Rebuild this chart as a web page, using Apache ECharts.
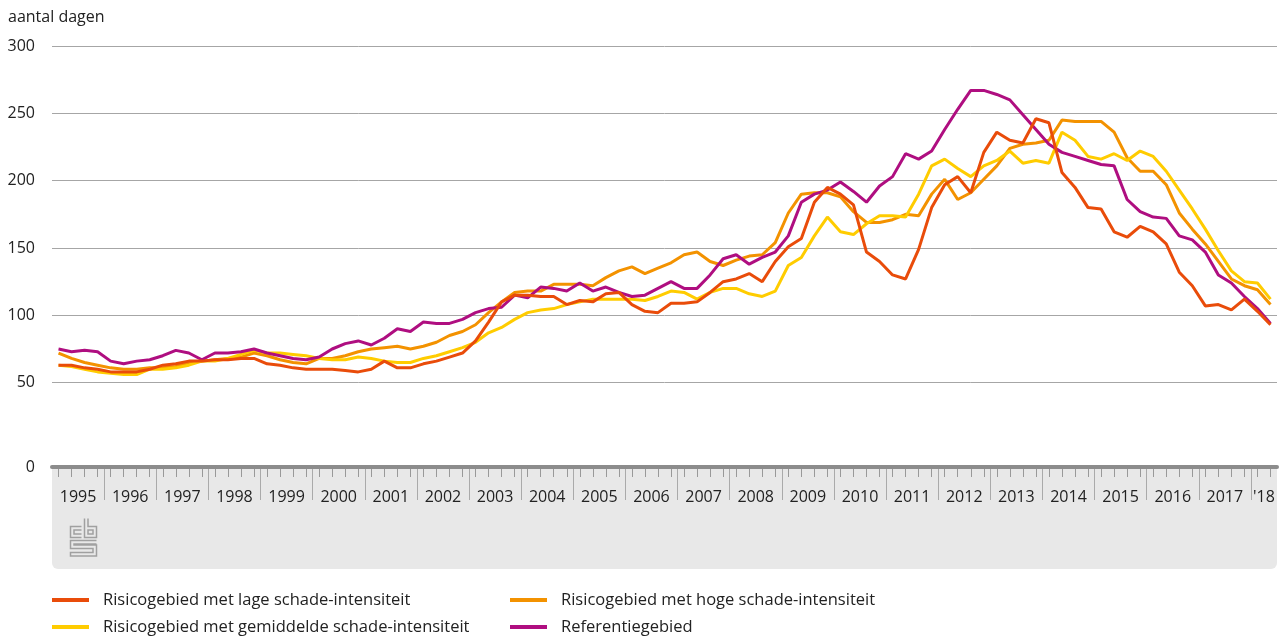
<!DOCTYPE html>
<html>
<head>
<meta charset="utf-8">
<script src="https://cdn.jsdelivr.net/npm/echarts@6/dist/echarts.min.js"></script>
<style>
  html, body { margin: 0; padding: 0; background: #fff; }
  #chart { width: 1285px; height: 637px; }
</style>
</head>
<body>
<div id="chart"></div>
<script>
// kwartalen 1995 K1 t/m 2018 K2
const jaren = []
for (let j = 1995; j <= 2018; j++) jaren.push(j)
const kwartalen = []
jaren.forEach(j => {
  for (let k = 1; k <= 4; k++) {
    if (j === 2018 && k > 2) continue
    kwartalen.push(j + 'K' + k)
  }
})

const lage = [
  63, 63, 61, 60, 58, 58, 58, 60, 63, 64, 66, 66, 67, 67, 68, 68,
  64, 63, 61, 60, 60, 60, 59, 58, 60, 66, 61, 61, 64, 66, 69, 72,
  81, 95, 110, 115, 115, 114, 114, 108, 111, 110, 116, 117, 108, 103, 102, 109,
  109, 110, 117, 125, 127, 131, 125, 140, 151, 157, 184, 195, 190, 182, 147, 140,
  130, 127, 149, 180, 197, 203, 191, 221, 236, 230, 228, 246, 243, 206, 195, 180,
  179, 162, 158, 166, 162, 153, 132, 122, 107, 108, 104, 112, 103, 93
]
const gemiddelde = [
  63, 62, 60, 58, 57, 56, 56, 60, 60, 61, 63, 66, 66, 68, 71, 74,
  72, 72, 71, 70, 68, 67, 67, 69, 68, 66, 65, 65, 68, 70, 73, 76,
  80, 87, 91, 97, 102, 104, 105, 108, 110, 112, 112, 112, 112, 111, 114, 118,
  117, 112, 117, 120, 120, 116, 114, 118, 137, 143, 159, 173, 162, 160, 168, 174,
  174, 173, 190, 211, 216, 209, 203, 211, 215, 222, 213, 215, 213, 236, 230, 218,
  216, 220, 215, 222, 218, 207, 193, 179, 164, 148, 133, 125, 124, 112
]
const hoge = [
  72, 68, 65, 63, 61, 60, 60, 61, 61, 62, 65, 66, 67, 68, 69, 72,
  70, 67, 65, 64, 68, 68, 70, 73, 75, 76, 77, 75, 77, 80, 85, 88,
  93, 102, 110, 117, 118, 118, 123, 123, 123, 122, 128, 133, 136, 131, 135, 139,
  145, 147, 140, 137, 141, 144, 145, 154, 176, 190, 191, 191, 188, 177, 169, 169,
  171, 175, 174, 190, 201, 186, 191, 201, 211, 224, 227, 228, 230, 245, 244, 244,
  244, 236, 217, 207, 207, 197, 176, 164, 153, 140, 127, 122, 119, 108
]
const referentie = [
  75, 73, 74, 73, 66, 64, 66, 67, 70, 74, 72, 67, 72, 72, 73, 75,
  72, 70, 68, 67, 69, 75, 79, 81, 78, 83, 90, 88, 95, 94, 94, 97,
  102, 105, 106, 115, 113, 121, 120, 118, 124, 118, 121, 117, 114, 115, 120, 125,
  120, 120, 130, 142, 145, 138, 143, 147, 159, 184, 190, 193, 199, 192, 184, 196,
  203, 220, 216, 222, 238, 253, 267, 267, 264, 260, 249, 238, 227, 221, 218, 215,
  212, 211, 186, 177, 173, 172, 159, 156, 147, 130, 124, 114, 105, 94
]

const naamLage = 'Risicogebied met lage schade-intensiteit'
const naamGem = 'Risicogebied met gemiddelde schade-intensiteit'
const naamHoge = 'Risicogebied met hoge schade-intensiteit'
const naamRef = 'Referentiegebied'

// jaargrenzen, kwartaalmiddens en labelposities op de kwartaalschaal
const jaarGrenzen = jaren.slice(1).map((j, i) => (i + 1) * 4)
const kwartaalMidden = kwartalen.map((k, i) => i + 0.5)
const jaarMidden = jaren.map((j, i) => (j === 2018 ? i * 4 + 1 : i * 4 + 2))

const font = "'Open Sans', 'Noto Sans', sans-serif"
const tekst = '#222'

const echart = echarts.init(document.getElementById('chart'))

const lijn = (name, data, color) => ({
  name,
  type: 'line',
  data,
  xAxisIndex: 0,
  yAxisIndex: 0,
  showSymbol: false,
  symbol: 'none',
  lineStyle: { color, width: 3 },
  itemStyle: { color },
  emphasis: { disabled: true }
})

const legendStijl = {
  orient: 'vertical',
  top: 590,
  padding: 0,
  icon: 'rect',
  itemWidth: 37,
  itemHeight: 4,
  itemGap: 7,
  selectedMode: false,
  textStyle: { fontFamily: font, fontSize: 16.5, color: tekst, lineHeight: 20, padding: [0, 0, 0, 9] }
}

const option = {
  animation: false,
  textStyle: { fontFamily: font },
  title: {
    text: 'aantal dagen',
    left: 8,
    top: 9,
    padding: 0,
    textStyle: { fontFamily: font, fontSize: 16, fontWeight: 'normal', color: tekst }
  },
  grid: {
    left: 52,
    right: 8,
    top: 46,
    bottom: 187
  },
  graphic: [
    {
      type: 'rect',
      z: -10,
      shape: { x: 52, y: 468, width: 1225, height: 101, r: [0, 0, 6, 6] },
      style: { fill: '#e8e8e8' }
    },
    {
      // cbs-logo
      type: 'group',
      left: 68,
      top: 516,
      z: -5,
      children: [
        { type: 'polyline', shape: { points: [[11, 8], [0, 8], [0, 19], [11, 19]] }, style: { stroke: '#a0a0a0', lineWidth: 1.5, fill: null } },
        { type: 'polyline', shape: { points: [[11, 11.5], [3.5, 11.5], [3.5, 15.5], [11, 15.5]] }, style: { stroke: '#a0a0a0', lineWidth: 1.5, fill: null } },
        { type: 'polyline', shape: { points: [[14, 0], [14, 19], [26, 19], [26, 8], [17.5, 8], [17.5, 0]] }, style: { stroke: '#a0a0a0', lineWidth: 1.5, fill: null } },
        { type: 'rect', shape: { x: 17.5, y: 11.5, width: 5, height: 4 }, style: { stroke: '#a0a0a0', lineWidth: 1.5, fill: null } },
        { type: 'polyline', shape: { points: [[26, 22], [0, 22], [0, 30], [22.5, 30], [22.5, 34], [0, 34], [0, 37.5], [26, 37.5], [26, 26.5], [3.5, 26.5], [3.5, 25.5], [26, 25.5]] }, style: { stroke: '#a0a0a0', lineWidth: 1.5, fill: null } }
      ]
    }
  ],
  legend: [
    Object.assign({ data: [naamLage, naamGem], left: 52 }, legendStijl),
    Object.assign({ data: [naamHoge, naamRef], left: 510 }, legendStijl)
  ],
  xAxis: [
    {
      type: 'category',
      data: kwartalen,
      boundaryGap: true,
      position: 'bottom',
      offset: 17,
      z: 5,
      axisLine: { onZero: false, lineStyle: { color: '#8c8c8c', width: 4 } },
      axisTick: { show: false },
      axisLabel: { show: false },
      splitLine: { show: false }
    },
    {
      // jaargrenzen + jaartallen
      type: 'value',
      min: 0,
      max: kwartalen.length,
      position: 'bottom',
      offset: 17,
      axisLine: { show: false, onZero: false },
      axisTick: { show: true, customValues: jaarGrenzen, length: 33, lineStyle: { color: '#aaaaaa', width: 1 } },
      axisLabel: {
        customValues: jaarMidden,
        margin: 22,
        fontSize: 16,
        fontFamily: font,
        color: tekst,
        formatter: v => {
          const j = jaren[Math.floor(v / 4)]
          return j === 2018 ? "'18" : String(j)
        }
      },
      splitLine: { show: false }
    },
    {
      // kwartaalstreepjes
      type: 'value',
      min: 0,
      max: kwartalen.length,
      position: 'bottom',
      offset: 18,
      axisLine: { show: false, onZero: false },
      axisTick: { show: true, customValues: kwartaalMidden, length: 9, lineStyle: { color: '#999999', width: 1 } },
      axisLabel: { show: false },
      splitLine: { show: false }
    }
  ],
  yAxis: {
    type: 'value',
    min: 0,
    max: 300,
    interval: 50,
    axisLine: { show: false },
    axisTick: { show: false },
    axisLabel: {
      margin: 17,
      fontSize: 16,
      fontFamily: font,
      color: tekst,
      formatter: v => (v === 0 ? '{z|0}' : String(v)),
      rich: { z: { fontSize: 16, fontFamily: font, color: tekst, padding: [34, 0, 0, 0] } }
    },
    splitLine: { show: true, showMinLine: false, lineStyle: { color: '#a6a6a6', width: 1 } }
  },
  series: [
    lijn(naamHoge, hoge, '#f39200'),
    lijn(naamGem, gemiddelde, '#ffcc00'),
    lijn(naamRef, referentie, '#af0e80'),
    lijn(naamLage, lage, '#e94c0a')
  ]
}

echart.setOption(option)
</script>
</body>
</html>
